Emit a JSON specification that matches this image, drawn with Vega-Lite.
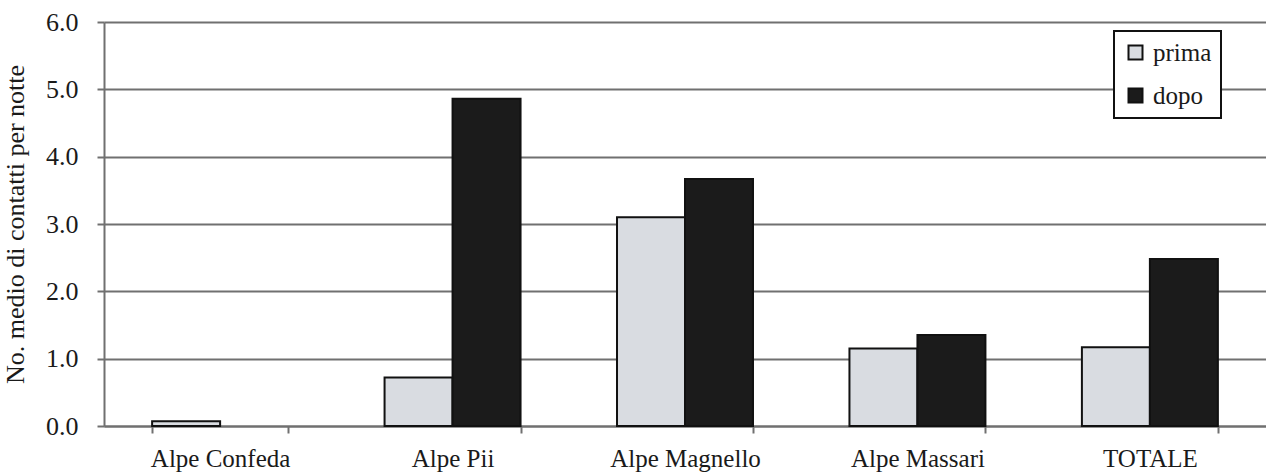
{
  "$schema": "https://vega.github.io/schema/vega-lite/v6.json",
  "autosize": {"type": "none"},
  "width": 1162,
  "height": 404,
  "padding": {"left": 104, "top": 22, "right": 0, "bottom": 47},
  "background": "white",
  "data": {
    "values": [
      {"sito": "Alpe Confeda", "periodo": "prima", "valore": 0.07},
      {"sito": "Alpe Pii", "periodo": "prima", "valore": 0.72},
      {"sito": "Alpe Pii", "periodo": "dopo", "valore": 4.86},
      {"sito": "Alpe Magnello", "periodo": "prima", "valore": 3.1},
      {"sito": "Alpe Magnello", "periodo": "dopo", "valore": 3.67},
      {"sito": "Alpe Massari", "periodo": "prima", "valore": 1.15},
      {"sito": "Alpe Massari", "periodo": "dopo", "valore": 1.35},
      {"sito": "TOTALE", "periodo": "prima", "valore": 1.17},
      {"sito": "TOTALE", "periodo": "dopo", "valore": 2.48}
    ]
  },
  "mark": {"type": "bar", "stroke": "#111111", "strokeWidth": 2},
  "encoding": {
    "x": {
      "field": "sito",
      "type": "nominal",
      "sort": ["Alpe Confeda", "Alpe Pii", "Alpe Magnello", "Alpe Massari", "TOTALE"],
      "scale": {"paddingInner": 0.415, "paddingOuter": 0.207},
      "axis": {
        "title": null,
        "labelAngle": 0,
        "tickBand": "extent",
        "tickSize": 7,
        "tickWidth": 2,
        "tickColor": "#707070",
        "domainColor": "#707070",
        "domainWidth": 2,
        "labelPadding": 13,
        "labelFontSize": 25,
        "labelFont": "Liberation Serif",
        "labelColor": "#1a1a1a",
        "grid": false
      }
    },
    "xOffset": {
      "field": "periodo",
      "type": "nominal",
      "sort": ["prima", "dopo"],
      "scale": {"domain": ["prima", "dopo"], "paddingInner": 0, "paddingOuter": 0}
    },
    "y": {
      "field": "valore",
      "type": "quantitative",
      "scale": {"domain": [0, 6], "nice": false},
      "axis": {
        "title": "No. medio di contatti per notte",
        "titleFont": "Liberation Serif",
        "titleFontSize": 26,
        "titleFontWeight": "normal",
        "titleColor": "#1a1a1a",
        "titlePadding": 17,
        "values": [0, 1, 2, 3, 4, 5, 6],
        "format": ".1f",
        "labelFont": "Liberation Serif",
        "labelFontSize": 26,
        "labelColor": "#1a1a1a",
        "labelPadding": 19,
        "tickSize": 7,
        "tickWidth": 2,
        "tickColor": "#707070",
        "domainColor": "#707070",
        "domainWidth": 2,
        "grid": true,
        "gridColor": "#707070",
        "gridWidth": 2,
        "gridOpacity": 1
      }
    },
    "color": {
      "field": "periodo",
      "type": "nominal",
      "sort": ["prima", "dopo"],
      "scale": {"domain": ["prima", "dopo"], "range": ["#d9dce1", "#1b1b1b"]},
      "legend": {
        "title": null,
        "orient": "none",
        "legendX": 1010,
        "legendY": 9,
        "padding": 9,
        "fillColor": "white",
        "strokeColor": "#111111",
        "symbolType": "square",
        "symbolSize": 196,
        "symbolStrokeColor": "#111111",
        "symbolStrokeWidth": 2,
        "symbolOpacity": 1,
        "labelFont": "Liberation Serif",
        "labelFontSize": 25,
        "labelColor": "#1a1a1a",
        "labelOffset": 5,
        "rowPadding": 17,
        "encode": {"legend": {"update": {"strokeWidth": {"value": 2}}}}
      }
    }
  },
  "config": {"view": {"stroke": null}}
}
